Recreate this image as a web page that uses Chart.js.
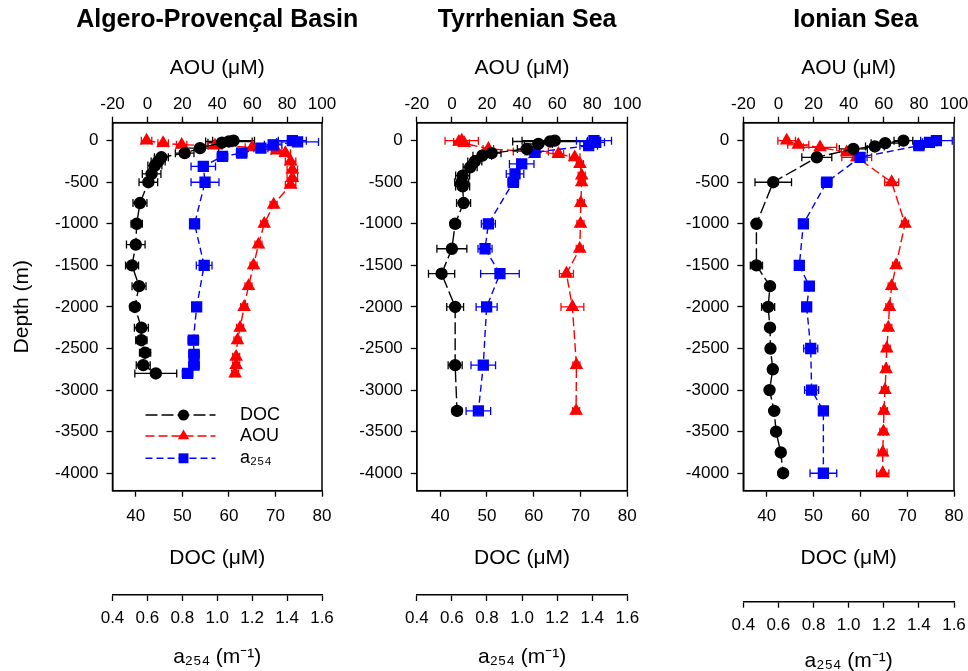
<!DOCTYPE html>
<html><head><meta charset="utf-8">
<script src="https://cdn.jsdelivr.net/npm/chart.js@4.4.0/dist/chart.umd.min.js"></script>
<style>
html,body{margin:0;padding:0;background:#fff;width:968px;height:671px;overflow:hidden;position:relative}
canvas{position:absolute;top:0}
</style></head><body>
<canvas id="c1" width="400" height="700" style="left:0px"></canvas>
<canvas id="c2" width="310" height="700" style="left:340px"></canvas>
<canvas id="c3" width="340" height="700" style="left:650px"></canvas>
<script>
// ---------- data ----------
const panelTitles = ['Algero-Provençal Basin', 'Tyrrhenian Sea', 'Ionian Sea'];
const depthTicks = [0,-500,-1000,-1500,-2000,-2500,-3000,-3500,-4000];
const aouTicks = [-20,0,20,40,60,80,100];
const docTicks = [40,50,60,70,80];
const a254Ticks = [0.4,0.6,0.8,1.0,1.2,1.4,1.6];

// Algero-Provençal Basin
const apDocDepth = [0,-10,-25,-90,-150,-200,-250,-300,-400,-500,-750,-1000,-1250,-1500,-1750,-2000,-2250,-2400,-2550,-2700,-2800];
const apDoc      = [61,60,58.5,53.8,50.5,45.5,44.8,44.1,43.4,42.7,40.9,40.2,40,39.2,40.7,39.8,41.2,41.2,42,41.6,44.3];
const apDocErr   = [4.5,5,3,4,2,1.5,1.5,1.5,2,2,1.5,1.2,2,1.4,1.5,1,1.5,1.2,1.2,1.5,4.5];
const apAouDepth = [0,-30,-50,-60,-80,-120,-150,-250,-350,-450,-530,-770,-1000,-1250,-1500,-1750,-2000,-2250,-2400,-2600,-2700,-2800];
const apAou      = [-0.5,9,19.6,38.7,60,74,79,82,83,83,82,72.3,66.9,63.6,60.8,57.9,55.4,53.1,51.6,50.8,50.8,50.2];
const apAouErr   = [3,3,3,4,4,3,3,3,3,3,3,2,2,2,2,2,2,2,2,2,2,2];
const apA254Depth = [0,-15,-50,-90,-150,-190,-310,-500,-1000,-1500,-2000,-2400,-2570,-2700,-2800];
const apA254      = [1.43,1.46,1.32,1.25,1.14,1.03,0.92,0.93,0.87,0.925,0.882,0.863,0.867,0.867,0.83];
const apA254Err   = [0.08,0.12,0.05,0.04,0.03,0.03,0.07,0.08,0.02,0.045,0.02,0.03,0.03,0.03,0.03];

// Tyrrhenian Sea
const tyDocDepth = [0,-10,-40,-100,-150,-180,-250,-320,-420,-500,-550,-750,-1000,-1300,-1600,-2000,-2700,-3250];
const tyDoc      = [64.5,63.5,61,58.5,51,49,47.4,46.4,44.8,44.6,44.8,45,43.2,42.5,40.3,43.2,43.2,43.6];
const tyDocErr   = [7,8,3,2,2,2,1.5,1.5,1.5,1.5,1.5,1.5,1,3.2,2.8,1.8,1.5,1];
const tyAouDepth = [0,-15,-30,-100,-130,-160,-200,-280,-420,-500,-750,-1000,-1300,-1600,-2000,-2700,-3250];
const tyAou      = [5.6,4,7,20.8,45,60.7,70,73,74,74,73.5,73.3,72.9,65.3,68.7,71,70.8];
const tyAouErr   = [9.5,3,3,3,10,3,3,2,2,2,2,2,2,4,6.5,2,2];
const tyA254Depth = [0,-20,-60,-140,-280,-400,-500,-1000,-1300,-1600,-2000,-2700,-3250];
const tyA254      = [1.41,1.42,1.38,1.074,0.998,0.96,0.95,0.808,0.789,0.874,0.798,0.779,0.751];
const tyA254Err   = [0.1,0.05,0.05,0.02,0.07,0.05,0.03,0.04,0.04,0.11,0.06,0.07,0.07];

// Ionian Sea
const ioDocDepth = [0,-30,-70,-100,-200,-500,-1000,-1500,-1750,-2000,-2250,-2500,-2750,-3000,-3250,-3500,-3750,-4000];
const ioDoc      = [69.2,65.3,63.1,58.5,50.7,41.4,37.8,37.8,40.7,40.3,40.7,40.8,41.3,40.6,41.6,42,43,43.5];
const ioDocErr   = [2,3,2,3,3.2,3.9,0.8,1.3,0.6,1.4,0.5,0.5,0.5,0.8,0.5,0.5,0.5,0.5];
const ioAouDepth = [0,-50,-80,-140,-200,-500,-1000,-1500,-1750,-2000,-2250,-2500,-2750,-3000,-3250,-3500,-3750,-4000];
const ioAou      = [4.7,11.3,23.7,38.9,44.6,64.5,72.1,67,64.5,63.2,62.6,61.7,61.3,60.7,60.1,59.8,59.4,59.4];
const ioAouErr   = [5,6,9.5,3,8.5,4,2,2,2,2,2,2,2,2,2,2,2.5,3.5];
const ioA254Depth = [0,-20,-60,-200,-500,-1000,-1500,-1750,-2000,-2500,-3000,-3250,-4000];
const ioA254      = [1.50,1.46,1.40,1.065,0.875,0.742,0.719,0.776,0.761,0.784,0.789,0.856,0.856];
const ioA254Err   = [0.09,0.04,0.03,0.04,0.03,0.02,0.02,0.02,0.02,0.04,0.04,0.02,0.076];

// ---------- rendering ----------
const FONT = "'Liberation Sans', Arial, Helvetica, sans-serif";
Chart.defaults.font.family = FONT;
Chart.defaults.color = '#000';

const toXY = (xs, ys) => xs.map((v, i) => ({x: v, y: ys[i]}));

const errorBarPlugin = {
  id: 'errorBars',
  beforeDatasetsDraw(chart) {
    const ctx = chart.ctx, a = chart.chartArea;
    ctx.save();
    ctx.beginPath(); ctx.rect(a.left, a.top, a.right - a.left, a.bottom - a.top); ctx.clip();
    chart.data.datasets.forEach((ds, i) => {
      const meta = chart.getDatasetMeta(i);
      const xs = chart.scales[ds.xAxisID];
      ctx.strokeStyle = ds.borderColor; ctx.lineWidth = 1.3; ctx.setLineDash([]);
      ds.data.forEach((pt, j) => {
        const e = ds.errors[j]; if (!e) return;
        const el = meta.data[j]; const y = el.y;
        const x1 = xs.getPixelForValue(pt.x - e), x2 = xs.getPixelForValue(pt.x + e);
        ctx.beginPath();
        ctx.moveTo(x1, y); ctx.lineTo(x2, y);
        ctx.moveTo(x1, y - 4); ctx.lineTo(x1, y + 4);
        ctx.moveTo(x2, y - 4); ctx.lineTo(x2, y + 4);
        ctx.stroke();
      });
    });
    ctx.restore();
  }
};

const framePlugin = {
  id: 'frame',
  afterDraw(chart) {
    const ctx = chart.ctx, a = chart.chartArea;
    ctx.save(); ctx.strokeStyle = '#000'; ctx.lineWidth = 1.5; ctx.setLineDash([]);
    ctx.strokeRect(a.left, a.top, a.right - a.left, a.bottom - a.top);
    ctx.restore();
  }
};

const panelTitlePlugin = {
  id: 'panelTitle',
  afterDraw(chart, args, opts) {
    const ctx = chart.ctx, a = chart.chartArea;
    ctx.save();
    ctx.font = 'bold 25px ' + FONT; ctx.fillStyle = '#000';
    ctx.textAlign = 'center'; ctx.textBaseline = 'middle';
    ctx.fillText(opts.text, (a.left + a.right) / 2 + opts.dx, 20);
    ctx.restore();
  }
};

const legendPlugin = {
  id: 'customLegend',
  afterDraw(chart) {
    const ctx = chart.ctx, a = chart.chartArea;
    const rows = [
      {ds: chart.data.datasets[0], text: 'DOC', dy: 292.3},
      {ds: chart.data.datasets[2], text: 'AOU', dy: 313.3},
      {ds: chart.data.datasets[1], text: 'a\u2082\u2085\u2084', dy: 335.6}
    ];
    ctx.save();
    rows.forEach(r => {
      const y = a.top + r.dy, x1 = a.left + 33, x2 = a.left + 103, xm = a.left + 71;
      ctx.strokeStyle = r.ds.borderColor; ctx.fillStyle = r.ds.borderColor; ctx.lineWidth = 1.5;
      ctx.setLineDash(r.ds.borderDash);
      ctx.beginPath(); ctx.moveTo(x1, y); ctx.lineTo(x2, y); ctx.stroke();
      ctx.setLineDash([]);
      const rad = r.ds.pointRadius;
      ctx.beginPath();
      if (r.ds.pointStyle === 'circle') { ctx.arc(xm, y, rad, 0, Math.PI * 2); }
      else if (r.ds.pointStyle === 'rect') { const s = rad * Math.SQRT1_2; ctx.rect(xm - s, y - s, 2 * s, 2 * s); }
      else { ctx.moveTo(xm, y - rad); ctx.lineTo(xm + rad * 0.866, y + rad * 0.5); ctx.lineTo(xm - rad * 0.866, y + rad * 0.5); ctx.closePath(); }
      ctx.fill();
      ctx.font = '18px ' + FONT; ctx.textAlign = 'left'; ctx.textBaseline = 'middle';
      ctx.fillStyle = '#000';
      ctx.fillText(r.text, a.left + 127.5, y);
    });
    ctx.restore();
  }
};

function xAxis(pos, min, max, ticks, fmt, title, o) {
  return {
    type: 'linear', position: pos, min: min, max: max, weight: o.weight,
    afterBuildTicks: s => { s.ticks = ticks.map(v => ({value: v})); },
    afterFit: s => { s.height = o.height; },
    grid: {display: true, drawOnChartArea: false, drawTicks: true, tickLength: 6, tickColor: '#000', tickWidth: 1.3},
    border: {display: true, color: '#000', width: 1.5},
    ticks: {autoSkip: false, maxRotation: 0, minRotation: 0, padding: o.tickPad, font: {size: 17}, color: '#000', callback: fmt},
    title: {display: true, text: title, font: {size: 21}, color: '#000', padding: o.titlePad}
  };
}

function makePanel(id, p) {
  const datasets = [
    {label: 'DOC', data: toXY(p.doc, p.docDepth), errors: p.docErr, xAxisID: 'xDOC', yAxisID: 'y',
     borderColor: '#000000', backgroundColor: '#000000', pointStyle: 'circle', pointRadius: 5.5,
     borderDash: [12, 4], borderWidth: 1.4},
    {label: 'a254', data: toXY(p.a254, p.a254Depth), errors: p.a254Err, xAxisID: 'xA', yAxisID: 'y',
     borderColor: '#0000ff', backgroundColor: '#0000ff', pointStyle: 'rect', pointRadius: 7,
     borderDash: [7, 4], borderWidth: 1.4},
    {label: 'AOU', data: toXY(p.aou, p.aouDepth), errors: p.aouErr, xAxisID: 'xAOU', yAxisID: 'y',
     borderColor: '#ff0000', backgroundColor: '#ff0000', pointStyle: 'triangle', pointRadius: 6.5,
     borderDash: [9, 4], borderWidth: 1.4}
  ];
  const plugins = [errorBarPlugin, framePlugin, panelTitlePlugin];
  if (p.legend) plugins.push(legendPlugin);
  new Chart(document.getElementById(id), {
    type: 'line',
    data: {datasets: datasets},
    plugins: plugins,
    options: {
      responsive: false, animation: false, events: [],
      layout: {padding: {left: 0, right: p.padRight, top: 38, bottom: 0}},
      elements: {line: {tension: 0, fill: false}, point: {borderWidth: 1}},
      plugins: {
        legend: {display: false}, tooltip: {enabled: false}, title: {display: false},
        panelTitle: {text: p.title, dx: p.titleDx}
      },
      scales: {
        xAOU: xAxis('top', -20, 100, aouTicks, v => String(v), 'AOU (\u03bcM)',
                    {weight: 0, height: 84.7, tickPad: 2, titlePad: {top: 17.4, bottom: 0}}),
        xDOC: xAxis('bottom', 35, 80, docTicks, v => String(v), 'DOC (\u03bcM)',
                    {weight: 0, height: p.docH, tickPad: 9, titlePad: {top: 0, bottom: p.docTitlePad}}),
        xA: xAxis('bottom', 0.4, 1.6, a254Ticks, v => Number(v).toFixed(1), 'a\u2082\u2085\u2084 (m\u207b\u00b9)',
                    {weight: 1, height: p.aH, tickPad: 7, titlePad: {top: 0, bottom: p.aTitlePad}}),
        y: {
          type: 'linear', position: 'left', min: p.yMin, max: p.yMax,
          afterBuildTicks: s => { s.ticks = depthTicks.map(v => ({value: v})); },
          afterFit: s => { s.width = p.yWidth; },
          grid: {display: true, drawOnChartArea: false, drawTicks: true, tickLength: 6, tickColor: '#000', tickWidth: 1.3},
          border: {display: true, color: '#000', width: 1.5},
          ticks: {autoSkip: false, padding: 8, font: {size: 17}, color: '#000', callback: v => String(v)},
          title: {display: p.yTitle, text: 'Depth (m)', font: {size: 21}, color: '#000', padding: {top: 9.2, bottom: 0}}
        }
      }
    }
  });
}

makePanel('c1', {title: panelTitles[0], titleDx: 0, legend: true, yTitle: true, yWidth: 112.5, padRight: 78,
  yMin: -4210, yMax: 216, docH: 104.3, docTitlePad: 24.4, aH: 105, aTitlePad: 30.4,
  doc: apDoc, docDepth: apDocDepth, docErr: apDocErr,
  aou: apAou, aouDepth: apAouDepth, aouErr: apAouErr,
  a254: apA254, a254Depth: apA254Depth, a254Err: apA254Err});
makePanel('c2', {title: panelTitles[1], titleDx: 5, legend: false, yTitle: false, yWidth: 76.8, padRight: 22.7,
  yMin: -4210, yMax: 216, docH: 104.3, docTitlePad: 24.4, aH: 105, aTitlePad: 30.4,
  doc: tyDoc, docDepth: tyDocDepth, docErr: tyDocErr,
  aou: tyAou, aouDepth: tyAouDepth, aouErr: tyAouErr,
  a254: tyA254, a254Depth: tyA254Depth, a254Err: tyA254Err});
makePanel('c3', {title: panelTitles[2], titleDx: 7, legend: false, yTitle: false, yWidth: 93.3, padRight: 36,
  yMin: -4210, yMax: 216, docH: 111, docTitlePad: 30.8, aH: 98.3, aTitlePad: 25.7,
  doc: ioDoc, docDepth: ioDocDepth, docErr: ioDocErr,
  aou: ioAou, aouDepth: ioAouDepth, aouErr: ioAouErr,
  a254: ioA254, a254Depth: ioA254Depth, a254Err: ioA254Err});
</script>
</body></html>
